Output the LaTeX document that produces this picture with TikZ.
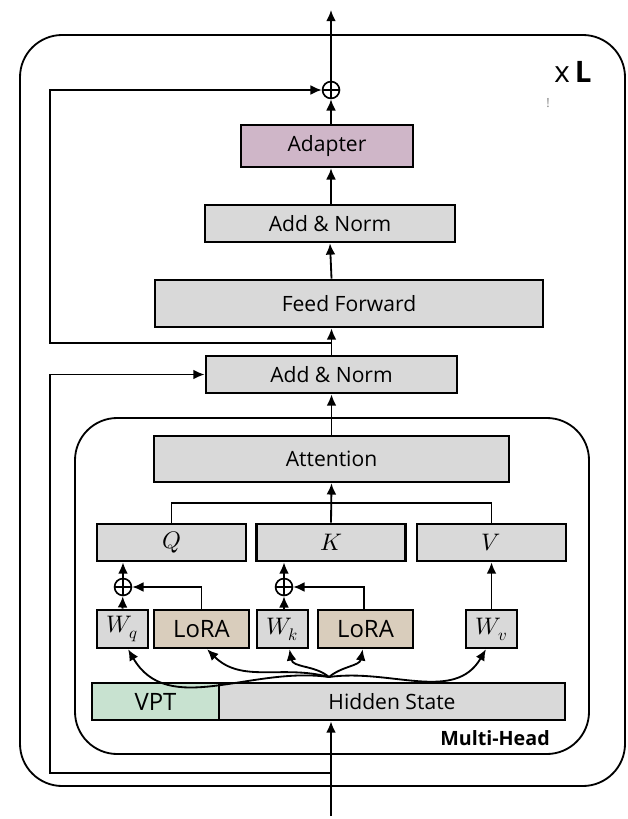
\documentclass[tikz,border=0pt]{standalone}
\usepackage{fontspec}
\usepackage{unicode-math}
\setmainfont{Open Sans}
\setmathfont{Latin Modern Math}
\usetikzlibrary{arrows.meta}

\definecolor{boxgray}{RGB}{217,217,217}
\definecolor{adaptcol}{RGB}{207,182,200}
\definecolor{loracol}{RGB}{217,205,188}
\definecolor{vptcol}{RGB}{200,226,208}

\newcommand{\mlabel}[1]{{\fontsize{17}{20}\selectfont$#1$}}

\tikzset{
	blk/.style={rectangle, draw, line width=1.8pt, fill=boxgray, inner sep=0pt, font=\fontsize{15}{18}\selectfont},
	plus/.style={circle, draw, line width=1.2pt, minimum size=12pt, inner sep=0pt,
		path picture={\draw (path picture bounding box.north) -- (path picture bounding box.south)
			(path picture bounding box.west) -- (path picture bounding box.east);}},
}

\begin{document}
\begin{tikzpicture}[x=0.025cm, y=-0.025cm, >={Latex[length=8pt,width=7pt]}, line width=1.3pt]
	\useasboundingbox (0,0) rectangle (628,819);

	% frames
	\draw [rounded corners=30pt] (20,35) rectangle (625,786);
	\draw [rounded corners=30pt] (75,418) rectangle (589,754);

	\node at (573,72) (rep) {\fontsize{21}{24}\selectfont x\,\textbf{L}};
	\node at (548,103) [text=gray, font=\fontsize{9}{10}\selectfont] (bang) {!};
	\node at (495,738) [font=\bfseries\fontsize{14}{17}\selectfont] (mh) {Multi-Head};

	\node at (331,90) [plus] (psum) {};
	\node at (327,146) [blk, fill=adaptcol, minimum width=4.3cm, minimum height=1.05cm] (adapt) {Adapter};
	\node at (330,223.5) [blk, minimum width=6.25cm, minimum height=0.93cm] (addn2) {Add \& Norm};
	\node at (349,303.5) [blk, minimum width=9.7cm, minimum height=1.18cm] (ff) {Feed Forward};
	\node at (331.5,374.5) [blk, minimum width=6.28cm, minimum height=0.93cm] (addn1) {Add \& Norm};
	\node at (331.5,459) [blk, minimum width=8.88cm, minimum height=1.15cm] (attn) {Attention};

	\node at (171.5,542.5) [blk, minimum width=3.72cm, minimum height=0.93cm] (q) {\mlabel{Q}};
	\node at (331,542.5) [blk, minimum width=3.72cm, minimum height=0.93cm] (k) {\mlabel{K}};
	\node at (491.5,542.5) [blk, minimum width=3.72cm, minimum height=0.93cm] (v) {\mlabel{V}};

	\node at (123,587) [plus] (pq) {};
	\node at (284,587) [plus] (pk) {};

	\node at (122.5,629) [blk, minimum width=1.28cm, minimum height=0.95cm] (wq) {\mlabel{W_q}};
	\node at (201.5,629) [blk, fill=loracol, minimum width=2.38cm, minimum height=0.95cm, font=\fontsize{17}{20}\selectfont] (lora1) {LoRA};
	\node at (282.5,629) [blk, minimum width=1.28cm, minimum height=0.95cm] (wk) {\mlabel{W_k}};
	\node at (365.5,629) [blk, fill=loracol, minimum width=2.38cm, minimum height=0.95cm, font=\fontsize{17}{20}\selectfont] (lora2) {LoRA};
	\node at (491.5,629) [blk, minimum width=1.28cm, minimum height=0.95cm] (wv) {\mlabel{W_v}};

	\node at (155.5,701.5) [blk, fill=vptcol, minimum width=3.18cm, minimum height=0.93cm, font=\fontsize{17}{20}\selectfont] (vpt) {VPT};
	\node at (392,701.5) [blk, minimum width=8.65cm, minimum height=0.93cm] (hid) {Hidden State};

	\coordinate (hub) at (329,677);
	\coordinate (inp) at (331,816);
	\coordinate (out) at (331,10);
	\coordinate (res1) at (331,773);
	\coordinate (res2) at (331,343);
	\coordinate (br) at (331,503);

	% main path
	\draw [->] (inp) -- (inp |- hid.south);
	\draw [->] (attn.north) -- (attn.north |- addn1.south);
	\draw [->] (addn1.north) -- (addn1.north |- ff.south);
	\draw [->] (addn1.north |- ff.north) -- (addn2.south);
	\draw [->] (addn2.north) -- (addn2.north -| psum) -- (psum |- adapt.south);
	\draw [->] (psum |- adapt.north) -- (psum);
	\draw [->] (psum) -- (out);

	% residuals
	\draw [->] (res1) -- (50,773) |- (addn1.west);
	\draw [->] (res2) -- (50,343) |- (psum.west);

	% q k v
	\draw (q.north) |- (br) -| (v.north);
	\draw [->] (k.north) -- (attn.south);
	\draw [->] (wq.north) -- (pq);
	\draw [->] (pq) -- (pq |- q.south);
	\draw [->] (lora1.north) |- (pq.east);
	\draw [->] (wk.north -| pk) -- (pk);
	\draw [->] (pk) -- (pk |- k.south);
	\draw [->] (lora2.north -| 364,0) |- (pk.east);
	\draw [->] (wv.north) -- (wv.north |- v.south);

	% fan out of hidden state
	\draw [->] (hub) to[out=172, in=-60] ([xshift=4pt]wq.south);
	\draw [->] (hub) to[out=165, in=-45] ([xshift=4pt]lora1.south);
	\draw [->] (hub) to[out=140, in=-80] ([xshift=5pt]wk.south);
	\draw [->] (hub) to[out=40, in=-100] ([xshift=-2pt]lora2.south);
	\draw [->] (hub) to[out=8, in=-120] ([xshift=-4pt]wv.south);

\end{tikzpicture}
\end{document}
